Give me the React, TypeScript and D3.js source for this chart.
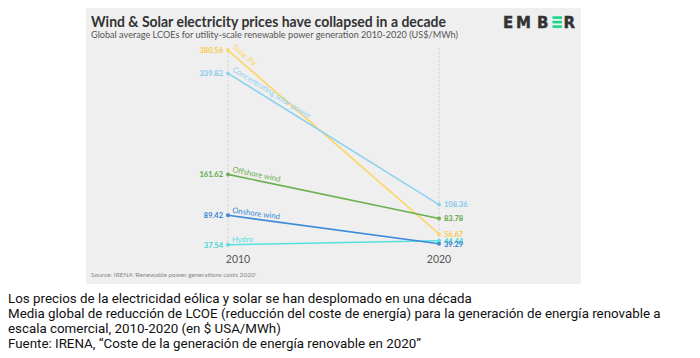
import React from 'react';
import { scaleLinear, scalePoint, line } from 'd3';

const years = [2010, 2020];
const seriesNames = ['Solar PV', 'Concentrating solar power', 'Offshore wind', 'Onshore wind', 'Hydro'];
const values2010 = [380.56, 339.82, 161.62, 89.42, 37.54];
const values2020 = [56.67, 108.36, 83.78, 39.29, 44.44];
const lineColors = ['#fdd666', '#8fd2f0', '#6cb050', '#3b8bd8', '#55e0e2'];
const labelColors = ['#f8c94a', '#7fc9ec', '#5fa845', '#3584d2', '#3fd6d8'];

const title = 'Wind & Solar electricity prices have collapsed in a decade';
const subtitle = 'Global average LCOEs for utility-scale renewable power generation 2010-2020 (US$/MWh)';
const source = "Source: IRENA 'Renewable power generations costs 2020'";
const footer = [
  'Los precios de la electricidad eólica y solar se han desplomado en una década',
  'Media global de reducción de LCOE (reducción del coste de energía) para la generación de energía renovable a',
  'escala comercial, 2010-2020 (en $ USA/MWh)',
  'Fuente: IRENA, “Coste de la generación de energía renovable en 2020”',
];

const font = 'Lato, "Open Sans", sans-serif';

export default function App() {
  const width = 684, height = 345;

  const x = scalePoint<number>().domain(years).range([220, 431]);
  const y = scaleLinear().domain([0, 380.56]).range([258, 42.3]);

  const data = seriesNames.map((name, i) => ({
    name,
    color: lineColors[i],
    labelColor: labelColors[i],
    points: [
      { year: years[0], v: values2010[i] },
      { year: years[1], v: values2020[i] },
    ],
  }));

  const lineF = line<{ year: number; v: number }>()
    .x(d => x(d.year) as number)
    .y(d => y(d.v));

  const allVals = values2010.concat(values2020);
  const yTop = y(Math.max(...allVals)) - 2;
  const yBottom = y(Math.min(...allVals));

  // draw hydro before onshore so onshore label sits on top like the original
  const order = [0, 1, 2, 4, 3];

  return (
    <svg width={width} height={height} style={{ display: 'block' }}>
      <rect x={78} y={0} width={495} height={276} fill="#efefef" />
      <text x={83} y={19} fontFamily={font} fontWeight={700} fontSize={15.5} fill="#333" textLength={355} lengthAdjust="spacingAndGlyphs">{title}</text>
      <text x={83} y={30} fontFamily={font} fontSize={10} fill="#555" textLength={367} lengthAdjust="spacingAndGlyphs">{subtitle}</text>

      {/* logo */}
      <g fontFamily='"DejaVu Sans", sans-serif' fontWeight={700} fontSize={15} fill="#333" stroke="#333" strokeWidth={0.4}>
        <text x={495} y={19.5}>E</text>
        <text x={508} y={19.5}>M</text>
        <text x={529} y={19.5}>B</text>
        <text x={555.5} y={19.5}>R</text>
      </g>
      <g fill="#17d68a">
        <rect x={544.5} y={8.3} width={9.5} height={2.6} />
        <rect x={544.5} y={12.8} width={9.5} height={2.6} />
        <rect x={544.5} y={17.3} width={9.5} height={2.6} />
      </g>

      {years.map(yr => (
        <line key={yr} x1={x(yr)} x2={x(yr)} y1={yTop} y2={yBottom} stroke="#c8c8c8" strokeWidth={0.8} strokeDasharray="2,2" />
      ))}
      {years.map((yr, i) => (
        <text key={'t' + yr} x={(x(yr) as number) + (i === 0 ? 10 : 0)} y={255} textAnchor="middle" fontFamily={font} fontSize={10.5} fill="#555">{yr}</text>
      ))}

      {order.map(i => {
        const s = data[i];
        const p0 = s.points[0], p1 = s.points[1];
        const x0 = x(p0.year) as number, y0 = y(p0.v);
        const x1 = x(p1.year) as number, y1 = y(p1.v);
        const ang = Math.atan2(y1 - y0, x1 - x0) * 180 / Math.PI;
        return (
          <g key={s.name}>
            <path d={lineF(s.points) || ''} fill="none" stroke={s.color} strokeWidth={1.6} />
            <circle cx={x0} cy={y0} r={2} fill={s.color} />
            <circle cx={x1} cy={y1} r={2} fill={s.color} />
            <text x={x0 - 5} y={y0 + 2.8} textAnchor="end" fontFamily={font} fontWeight={700} fontSize={7.5} fill={s.labelColor}>{p0.v.toFixed(2)}</text>
            <text x={x1 + 5} y={y1 + 2.8} fontFamily={font} fontWeight={700} fontSize={7.5} fill={s.labelColor}>{p1.v.toFixed(2)}</text>
            <text transform={`translate(${x0 + 4},${y0 - 2.5}) rotate(${ang})`} fontFamily={font} fontSize={7.8} fill={s.color}>{s.name}</text>
          </g>
        );
      })}

      <text x={83} y={269} fontFamily={font} fontSize={6.5} fill="#888">{source}</text>

      {footer.map((t, i) => (
        <text key={i} x={0} y={295 + i * 15} fontFamily="Roboto, sans-serif" fontSize={13.35} fill="#111">{t}</text>
      ))}
    </svg>
  );
}
